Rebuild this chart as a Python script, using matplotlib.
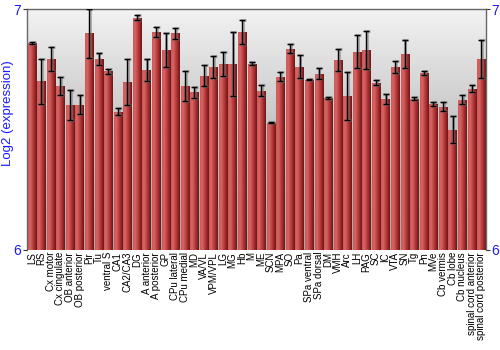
import numpy as np
import matplotlib
matplotlib.use("Agg")
import matplotlib.pyplot as plt
from matplotlib.colors import LinearSegmentedColormap
from matplotlib.patches import Rectangle

# Data
regions = ["LS", "RS", "Cx motor", "Cx cingulate", "OB anterior", "OB posterior",
           "Pir", "Tu", "ventral S", "CA1", "CA2/CA3", "DG", "A anterior",
           "A posterior", "GP", "CPu lateral", "CPu medial", "MD", "VA/VL",
           "VPM/VPL", "LG", "MG", "Hb", "M", "ME", "SCN", "MPA", "SO", "Pa",
           "SPa ventral", "SPa dorsal", "DM", "VMH", "Arc", "LH", "PAG", "SC",
           "IC", "VTA", "SN", "Tg", "Pn", "MVe", "Cb vermis", "Cb lobe",
           "Cb nucleus", "spinal cord anterior", "spinal cord posterior"]
values = [6.861, 6.701, 6.794, 6.681, 6.604, 6.604, 6.900, 6.792, 6.742, 6.574,
          6.697, 6.965, 6.750, 6.906, 6.833, 6.900, 6.682, 6.655, 6.725, 6.761,
          6.772, 6.775, 6.906, 6.775, 6.662, 6.529, 6.721, 6.837, 6.762, 6.708,
          6.733, 6.630, 6.790, 6.639, 6.825, 6.833, 6.696, 6.628, 6.762, 6.815,
          6.629, 6.737, 6.607, 6.596, 6.500, 6.625, 6.671, 6.794]
errors = [0.005, 0.094, 0.048, 0.038, 0.062, 0.040, 0.102, 0.025, 0.009, 0.015,
          0.095, 0.010, 0.046, 0.020, 0.071, 0.022, 0.061, 0.024, 0.042, 0.045,
          0.049, 0.133, 0.050, 0.008, 0.022, 0.003, 0.019, 0.019, 0.047, 0.002,
          0.022, 0.004, 0.045, 0.099, 0.069, 0.079, 0.010, 0.022, 0.025, 0.059,
          0.005, 0.008, 0.008, 0.019, 0.055, 0.018, 0.015, 0.081]

y_min, y_max = 6, 7
blue = "#1a1aff"

plt.rcParams['font.family'] = ['Liberation Sans', 'DejaVu Sans']
fig = plt.figure(figsize=(5, 3.5), dpi=100)
ax = fig.add_axes([0.054, 0.286, 0.918, 0.687])

x = np.arange(len(regions))
ax.set_xlim(-0.5, len(regions) - 0.5)
ax.set_ylim(y_min, y_max)

# background: vertical grey gradient, light at the top
bg = LinearSegmentedColormap.from_list("bg", ["#f2f2f2", "#c4c4c4", "#a8a8a8"])
ax.imshow(np.linspace(0, 1, 100).reshape(-1, 1), cmap=bg, aspect="auto",
          extent=(-0.5, len(regions) - 0.5, y_min, y_max), zorder=0)

# bars with a horizontal red gradient
red = LinearSegmentedColormap.from_list(
    "red", ["#c85a5a", "#d86464", "#bf4444", "#9c2a2a", "#6e1515"])
grad = np.linspace(0, 1, 64).reshape(1, -1)
width = 0.86
for xi, v in zip(x, values):
    rect = Rectangle((xi - width / 2, y_min), width, v - y_min,
                     facecolor="none", edgecolor="none")
    ax.add_patch(rect)
    im = ax.imshow(grad, cmap=red, aspect="auto",
                   extent=(xi - width / 2, xi + width / 2, y_min, v), zorder=2)
    im.set_clip_path(rect)

# error bars: soft grey shadow under black bar
ax.errorbar(x + 0.08, values, yerr=errors, fmt="none", ecolor="#777777",
            elinewidth=2.2, capsize=2.5, capthick=2.2, alpha=0.5, zorder=3)
ax.errorbar(x, values, yerr=errors, fmt="none", ecolor="black",
            elinewidth=1, capsize=2.5, capthick=1, zorder=4)

ax.set_xticks(x)
ax.set_xticklabels(regions, rotation=90, fontsize=7,
                   family=['Liberation Sans Narrow', 'Liberation Sans'])
ax.tick_params(axis="x", length=0, pad=1.5)

ax.set_yticks([y_min, y_max])
ax.tick_params(axis="y", colors="#333333", labelcolor=blue, labelsize=10,
               length=3, left=True, right=True, labelleft=True, labelright=True,
               pad=1)
ax.set_ylabel("Log2 (expression)", color=blue, fontsize=9.5)
ax.yaxis.set_label_coords(-0.028, 0.567)

for s in ax.spines.values():
    s.set_color("#666666")
    s.set_linewidth(1)
ax.spines["bottom"].set_visible(False)

fig.savefig("out.png", dpi=100)
